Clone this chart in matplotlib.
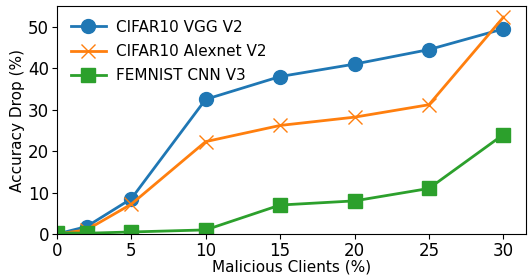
import matplotlib
matplotlib.use("Agg")
import matplotlib.pyplot as plt

# Datos
malicious = [0, 2, 5, 10, 15, 20, 25, 30]
vgg_drop = [0.0, 1.8, 8.5, 32.5, 38.0, 41.0, 44.5, 49.5]
alexnet_drop = [0.0, 1.0, 7.2, 22.3, 26.2, 28.2, 31.2, 52.3]
femnist_drop = [0.3, 0.2, 0.5, 1.0, 7.0, 8.0, 11.0, 24.0]

fig, ax = plt.subplots(figsize=(5.31, 2.76), dpi=100)
ax.plot(malicious, vgg_drop, marker='o', markersize=10, linewidth=2,
        color='#1f77b4', label='CIFAR10 VGG V2')
ax.plot(malicious, alexnet_drop, marker='x', markersize=10, linewidth=2,
        color='#ff7f0e', label='CIFAR10 Alexnet V2')
ax.plot(malicious, femnist_drop, marker='s', markersize=10, linewidth=2,
        color='#2ca02c', label='FEMNIST CNN V3')

ax.set_xlim(0, 31.5)
ax.set_ylim(0, 55)
ax.set_xticks([0, 5, 10, 15, 20, 25, 30])
ax.set_yticks([0, 10, 20, 30, 40, 50])
ax.tick_params(labelsize=12, pad=2)
ax.set_xlabel('Malicious Clients (%)', fontsize=11, labelpad=0)
ax.set_ylabel('Accuracy Drop (%)', fontsize=11, labelpad=2)
ax.legend(loc='upper left', fontsize=11, frameon=False, handlelength=2.3,
          borderaxespad=0.5, labelspacing=0.6, handletextpad=0.7)

fig.subplots_adjust(left=0.107, right=0.99, top=0.978, bottom=0.152)
fig.savefig('out.png', dpi=100)
